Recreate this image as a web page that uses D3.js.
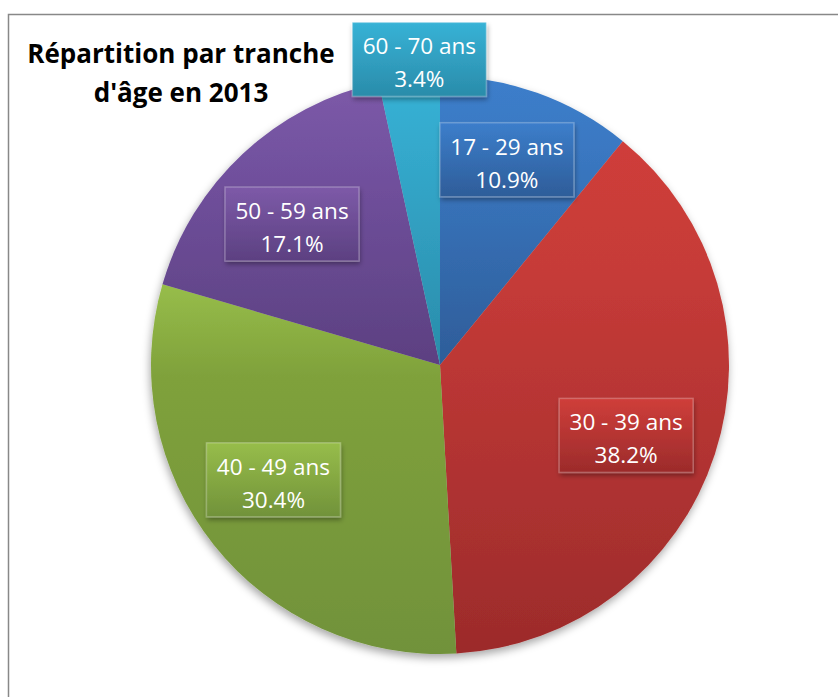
<!DOCTYPE html>
<html>
<head>
  <meta charset="utf-8">
  <title>Répartition par tranche d'âge en 2013</title>
  <script src="https://d3js.org/d3.v7.min.js"></script>
  <style>
    body { margin: 0; background: #fff; }
    svg { display: block; font-family: "Open Sans", sans-serif; }
  </style>
</head>
<body>
  <svg></svg>
  <script>
    // data
    const categories = ["17 - 29 ans", "30 - 39 ans", "40 - 49 ans", "50 - 59 ans", "60 - 70 ans"];
    const values = [10.9, 38.2, 30.4, 17.1, 3.4];
    const titleLines = ["Répartition par tranche", "d'âge en 2013"];

    // slice colours (light top -> dark bottom)
    const topColors = ["#3c7ecb", "#cf3e3a", "#97bd4a", "#7d5aa8", "#37b2d6"];
    const midColors = ["#3a78c2", "#c63b38", "#7fa13b", "#7352a0", "#34a9cc"];
    const bottomColors = ["#2e5d99", "#9c2b2b", "#71923a", "#5c4081", "#2a8caa"];
    // manual label nudges, like labels dragged by hand in the spreadsheet
    const labelNudge = [[-2, -12], [-9, 7], [-6, -13], [-8, 9], [12, -1]];

    const width = 838, height = 697;
    const cx = 440, cy = 365, radius = 289;

    const svg = d3.select("svg").attr("width", width).attr("height", height);
    const defs = svg.append("defs");

    // soft shadows
    const shadow = defs.append("filter").attr("id", "shadow")
      .attr("x", "-20%").attr("y", "-20%").attr("width", "140%").attr("height", "140%");
    shadow.append("feDropShadow").attr("dx", -1).attr("dy", 4)
      .attr("stdDeviation", 4).attr("flood-color", "#000").attr("flood-opacity", 0.35);

    const boxShadow = defs.append("filter").attr("id", "boxShadow")
      .attr("x", "-20%").attr("y", "-20%").attr("width", "140%").attr("height", "150%");
    boxShadow.append("feDropShadow").attr("dx", 1).attr("dy", 3)
      .attr("stdDeviation", 2.5).attr("flood-color", "#000").attr("flood-opacity", 0.35);

    categories.forEach((c, i) => {
      const g = defs.append("linearGradient").attr("id", "grad" + i)
        .attr("x1", 0).attr("y1", 0).attr("x2", 0).attr("y2", 1);
      g.append("stop").attr("offset", "0%").attr("stop-color", topColors[i]);
      g.append("stop").attr("offset", "25%").attr("stop-color", midColors[i]);
      g.append("stop").attr("offset", "100%").attr("stop-color", bottomColors[i]);
      const b = defs.append("linearGradient").attr("id", "box" + i)
        .attr("x1", 0).attr("y1", 0).attr("x2", 0).attr("y2", 1);
      b.append("stop").attr("offset", "0%").attr("stop-color", topColors[i]);
      b.append("stop").attr("offset", "100%").attr("stop-color", bottomColors[i]);
    });

    // frame
    svg.append("path")
      .attr("d", `M8.5,${height} V14.5 H${width}`)
      .attr("fill", "none").attr("stroke", "#888").attr("stroke-width", 1.5);

    const pie = d3.pie().sort(null).value(d => d);
    const arcs = pie(values);
    const arc = d3.arc().innerRadius(0).outerRadius(radius);

    const pieG = svg.append("g").attr("transform", `translate(${cx},${cy})`);
    pieG.append("g").attr("filter", "url(#shadow)")
      .selectAll("path")
      .data(arcs)
      .join("path")
      .attr("d", arc)
      .attr("fill", (d, i) => `url(#grad${i})`);

    // labels: inside for large slices, pushed out for tiny ones
    const labelPos = (d, i) => {
      const share = (d.endAngle - d.startAngle) / (2 * Math.PI);
      const r = share < 0.05 ? radius * 1.06 : radius * 0.71;
      const a = (d.startAngle + d.endAngle) / 2;
      return [r * Math.sin(a) + labelNudge[i][0], -r * Math.cos(a) + labelNudge[i][1]];
    };

    const fmt = d3.format(".1f");
    const labels = pieG.selectAll("g.label")
      .data(arcs)
      .join("g")
      .attr("class", "label")
      .attr("transform", (d, i) => `translate(${labelPos(d, i)})`);

    const boxW = 134, boxH = 74;
    labels.append("rect")
      .attr("x", -boxW / 2).attr("y", -boxH / 2)
      .attr("width", boxW).attr("height", boxH)
      .attr("fill", (d, i) => `url(#box${i})`)
      .attr("stroke", "rgba(255,255,255,0.25)")
      .attr("stroke-width", 1.5)
      .attr("filter", "url(#boxShadow)");

    labels.append("text")
      .attr("text-anchor", "middle")
      .attr("fill", "#fff")
      .attr("font-size", 22.5)
      .selectAll("tspan")
      .data((d, i) => [categories[i], fmt(d.data) + "%"])
      .join("tspan")
      .attr("x", 0)
      .attr("y", (t, j) => j === 0 ? -5 : 28)
      .text(t => t);

    // title
    svg.append("text")
      .attr("text-anchor", "middle")
      .attr("font-size", 26)
      .attr("font-weight", "bold")
      .attr("fill", "#000")
      .selectAll("tspan")
      .data(titleLines)
      .join("tspan")
      .attr("x", 181)
      .attr("y", (t, j) => 63 + j * 39)
      .text(t => t);
  </script>
</body>
</html>
